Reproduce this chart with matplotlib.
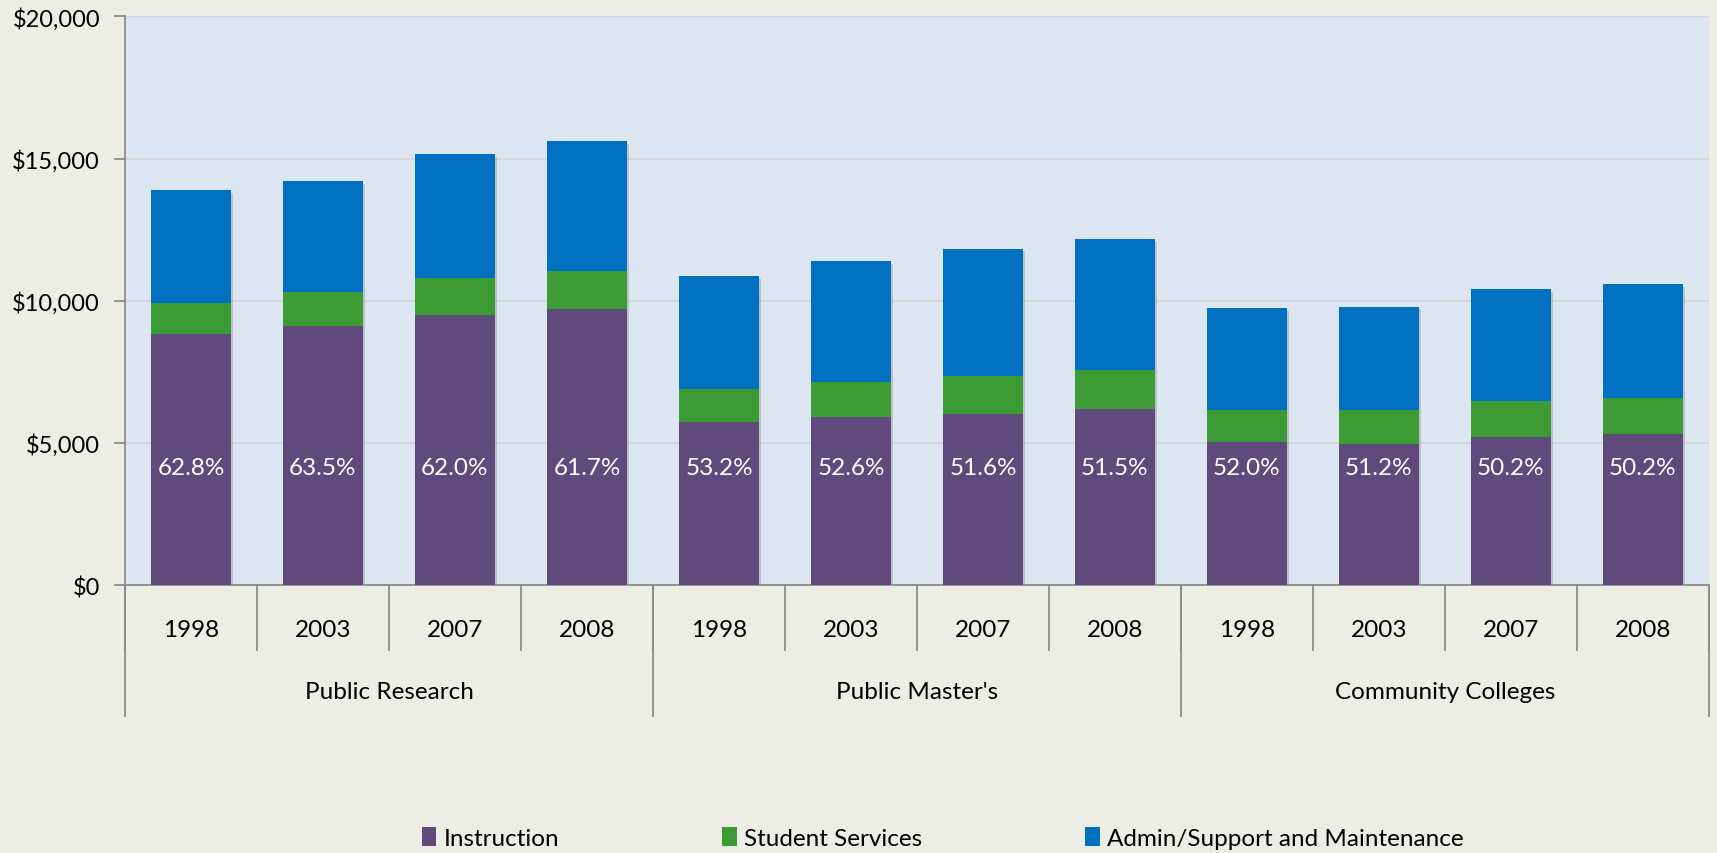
import numpy as np
import matplotlib.pyplot as plt
from matplotlib.patches import Patch
from matplotlib.ticker import FuncFormatter
import matplotlib.patheffects as pe

plt.rcParams['font.family'] = ['Lato', 'DejaVu Sans']

# spending per FTE student, by sector and year
groups = ['Public Research', "Public Master's", 'Community Colleges']
years = ['1998', '2003', '2007', '2008']
instruction = [8820, 9100, 9510, 9720, 5730, 5920, 6010, 6200, 5030, 4970, 5220, 5310]
student_services = [1100, 1200, 1280, 1320, 1150, 1220, 1340, 1360, 1130, 1190, 1250, 1270]
admin_support = [3980, 3900, 4370, 4570, 3990, 4250, 4480, 4610, 3590, 3630, 3950, 4010]
# instruction share of total spending (%)
instr_share = [62.8, 63.5, 62.0, 61.7, 53.2, 52.6, 51.6, 51.5, 52.0, 51.2, 50.2, 50.2]

series_names = ['Instruction', 'Student Services', 'Admin/Support and Maintenance']
c_purple = '#604A7B'
c_green = '#3C9B34'
c_blue = '#0070C0'
axis_col = '#8C8C8C'

instr = np.array(instruction)
stud = np.array(student_services)
adm = np.array(admin_support)
totals = instr + stud + adm
x = np.arange(len(instr))

fig = plt.figure(figsize=(17.17, 8.54), dpi=100)
fig.patch.set_facecolor('#ECEEE6')
ax = fig.add_axes([0.0728, 0.3138, 0.9225, 0.6659])
ax.set_facecolor('#DCE6F2')

# shadow under each full stack
ax.bar(x, totals, 0.6, color=c_blue, zorder=2,
       path_effects=[pe.withSimplePatchShadow(offset=(2, -2), shadow_rgbFace='#7f7f7f', alpha=0.35)])
ax.bar(x, instr, 0.6, color=c_purple, zorder=3)
ax.bar(x, stud, 0.6, bottom=instr, color=c_green, zorder=3)
ax.bar(x, adm, 0.6, bottom=instr + stud, color=c_blue, zorder=3)

for i, p in enumerate(instr_share):
    ax.text(x[i], 4150, f'{p:.1f}%', ha='center', va='center', color='white',
            fontsize=17.5, zorder=4)

ax.set_xlim(-0.5, 11.5)
ax.set_ylim(0, 20000)
ax.set_yticks(np.arange(0, 20001, 5000))
ax.yaxis.set_major_formatter(FuncFormatter(lambda v, _: '${:,.0f}'.format(v)))
ax.tick_params(axis='y', length=8, width=1.3, color=axis_col, pad=10, labelsize=17)
ax.tick_params(axis='x', bottom=False, labelbottom=False)
ax.yaxis.grid(True, color='#D8D5D3', lw=1.3)
ax.set_axisbelow(True)
for s in ['top', 'right']:
    ax.spines[s].set_visible(False)
for s in ['left', 'bottom']:
    ax.spines[s].set_color(axis_col)
    ax.spines[s].set_linewidth(1.3)

# two-level category axis
trans = ax.get_xaxis_transform()
for b in np.arange(-0.5, 12, 1):
    ax.plot([b, b], [0, -0.114], transform=trans, color=axis_col, lw=1.3, clip_on=False)
for b in [-0.5, 3.5, 7.5, 11.5]:
    ax.plot([b, b], [0, -0.2303], transform=trans, color=axis_col, lw=1.3, clip_on=False)
for i in x:
    ax.text(i, -0.0774, years[i % 4], transform=trans, ha='center', va='center', fontsize=17.5)
for g, name in enumerate(groups):
    ax.text(g * 4 + 1.5, -0.188, name, transform=trans, ha='center', va='center', fontsize=17.5)

handles = [Patch(facecolor=c) for c in (c_purple, c_green, c_blue)]
fig.legend(handles, series_names, loc='center', bbox_to_anchor=(0.549, 0.0175), ncol=3,
           frameon=False, fontsize=17.5, handlelength=0.6, handleheight=0.8,
           handletextpad=0.3, columnspacing=6.7)

fig.savefig('out.png', dpi=100, facecolor=fig.get_facecolor())
